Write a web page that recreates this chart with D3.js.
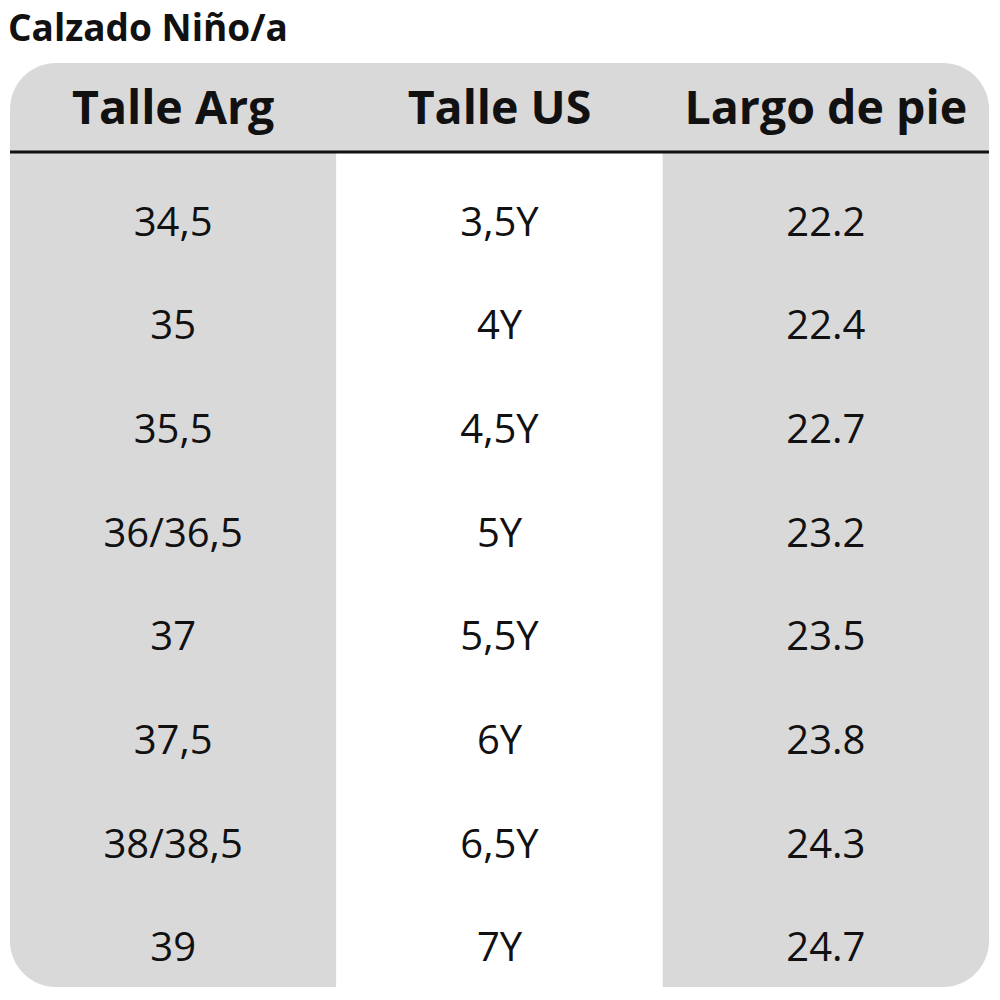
<!DOCTYPE html>
<html>
<head>
<meta charset="utf-8">
<script src="https://cdn.jsdelivr.net/npm/d3@7"></script>
<style>
  html, body { margin: 0; padding: 0; background: #fff; }
  svg text { font-family: "Open Sans", "Noto Sans", sans-serif; fill: #111; }
</style>
</head>
<body>
<svg id="chart"></svg>
<script>
// Size chart data
const title = 'Calzado Niño/a';
const columns = ['Talle Arg', 'Talle US', 'Largo de pie'];
const tallesArg = ['34,5', '35', '35,5', '36/36,5', '37', '37,5', '38/38,5', '39'];
const tallesUS = ['3,5Y', '4Y', '4,5Y', '5Y', '5,5Y', '6Y', '6,5Y', '7Y'];
const largoPie = ['22.2', '22.4', '22.7', '23.2', '23.5', '23.8', '24.3', '24.7'];

const width = 1000, height = 1000;
const table = { left: 10, right: 989, top: 63, bottom: 987, headerLine: 152 };
const gray = '#d9d9d9';

const svg = d3.select('#chart')
    .attr('width', width)
    .attr('height', height);

svg.append('rect').attr('width', width).attr('height', height).attr('fill', '#fff');

// Title
svg.append('text')
    .attr('x', 8)
    .attr('y', 41)
    .attr('font-size', 37)
    .attr('font-weight', 700)
    .text(title);

// Scales
const x = d3.scaleBand()
    .domain(columns)
    .range([table.left, table.right]);

const rows = d3.range(tallesArg.length);
const y = d3.scaleBand()
    .domain(rows)
    .range([170, 999]);

// Clip everything to the rounded table shape
svg.append('clipPath')
    .attr('id', 'tableClip')
    .append('rect')
    .attr('x', table.left)
    .attr('y', table.top)
    .attr('width', table.right - table.left)
    .attr('height', table.bottom - table.top)
    .attr('rx', 46)
    .attr('ry', 46);

const tableG = svg.append('g').attr('clip-path', 'url(#tableClip)');

// Header band
tableG.append('rect')
    .attr('x', table.left)
    .attr('y', table.top)
    .attr('width', table.right - table.left)
    .attr('height', table.headerLine - table.top)
    .attr('fill', gray);

// Column backgrounds (alternating gray / white / gray)
tableG.selectAll('rect.col-bg')
    .data(columns)
    .enter()
    .append('rect')
    .attr('class', 'col-bg')
    .attr('x', d => x(d))
    .attr('y', table.headerLine)
    .attr('width', x.bandwidth())
    .attr('height', table.bottom - table.headerLine)
    .attr('fill', (d, i) => i % 2 === 0 ? gray : '#fff');

// Header divider line
svg.append('line')
    .attr('x1', table.left)
    .attr('x2', table.right)
    .attr('y1', table.headerLine)
    .attr('y2', table.headerLine)
    .attr('stroke', '#111')
    .attr('stroke-width', 3);

// Header labels
svg.selectAll('text.col-head')
    .data(columns)
    .enter()
    .append('text')
    .attr('class', 'col-head')
    .attr('x', d => x(d) + x.bandwidth() / 2)
    .attr('y', 124)
    .attr('text-anchor', 'middle')
    .attr('font-size', 46.5)
    .attr('font-weight', 700)
    .text(d => d);

// Body cells
const colValues = [tallesArg, tallesUS, largoPie];
columns.forEach((col, ci) => {
    svg.selectAll(null)
        .data(colValues[ci])
        .enter()
        .append('text')
        .attr('x', x(col) + x.bandwidth() / 2)
        .attr('y', (d, i) => y(i) + y.bandwidth() / 2 + 14)
        .attr('text-anchor', 'middle')
        .attr('font-size', 40)
        .text(d => d);
});
</script>
</body>
</html>
